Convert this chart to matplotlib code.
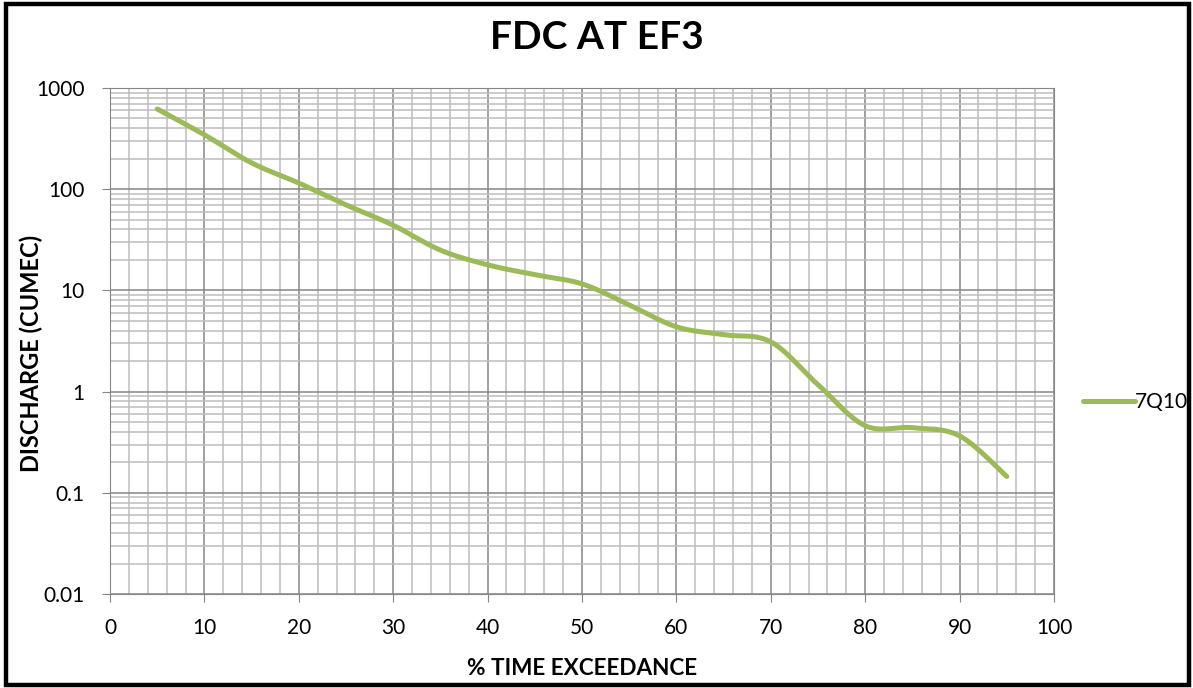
import numpy as np
from matplotlib import pyplot as plt
from matplotlib.patches import Rectangle
from matplotlib.ticker import MultipleLocator, LogLocator, FuncFormatter

# flow duration data (percent of time exceeded vs discharge)
exceedance = [5, 10, 15, 20, 25, 30, 35, 40, 45, 50, 55, 60, 65, 70, 75, 80, 85, 90, 95]
discharge = [620, 345, 182, 115, 70, 44, 25, 17.9, 14.3, 11.6, 7.2, 4.37, 3.65, 3.1,
             1.17, 0.46, 0.44, 0.365, 0.145]
series_name = '7Q10'

plt.rcParams['font.family'] = ['Lato', 'DejaVu Sans']
plt.rcParams['font.size'] = 15

# smoothed line like a spreadsheet chart: cubic bezier through points in (x, log y)
def smooth(x, y, n=40):
    x = np.asarray(x, float)
    y = np.log10(np.asarray(y, float))
    px = np.concatenate([[x[0]], x, [x[-1]]])
    py = np.concatenate([[y[0]], y, [y[-1]]])
    xs, ys = [], []
    t = np.linspace(0, 1, n)
    for i in range(1, len(px) - 2):
        p0 = np.array([px[i], py[i]])
        p3 = np.array([px[i + 1], py[i + 1]])
        p1 = p0 + (np.array([px[i + 1], py[i + 1]]) - np.array([px[i - 1], py[i - 1]])) / 6
        p2 = p3 - (np.array([px[i + 2], py[i + 2]]) - np.array([px[i], py[i]])) / 6
        b = (np.outer((1 - t) ** 3, p0) + np.outer(3 * (1 - t) ** 2 * t, p1)
             + np.outer(3 * (1 - t) * t ** 2, p2) + np.outer(t ** 3, p3))
        xs.extend(b[:, 0])
        ys.extend(b[:, 1])
    return np.array(xs), 10 ** np.array(ys)

fig = plt.figure(figsize=(11.93, 6.88), dpi=100)
ax = fig.add_axes([0.0922, 0.1366, 0.7913, 0.7355])

sx, sy = smooth(exceedance, discharge)
line, = ax.plot(sx, sy, color='#9BBB59', lw=3.6, solid_capstyle='round', zorder=3)

ax.set_yscale('log')
ax.set_xlim(0, 100)
ax.set_ylim(0.01, 1000)
ax.xaxis.set_major_locator(MultipleLocator(10))
ax.xaxis.set_minor_locator(MultipleLocator(2))
ax.yaxis.set_major_locator(LogLocator(base=10, numticks=10))
ax.yaxis.set_minor_locator(LogLocator(base=10, subs=np.arange(2, 10), numticks=10))
ax.yaxis.set_major_formatter(FuncFormatter(lambda v, p: '{:g}'.format(v)))
ax.yaxis.set_minor_formatter(FuncFormatter(lambda v, p: ''))

ax.grid(which='major', color='#868686', lw=1.1)
ax.grid(which='minor', color='#BDBDBD', lw=1.1)
ax.set_axisbelow(True)
for s in ax.spines.values():
    s.set_color('#868686')
ax.tick_params(which='major', length=5.5, color='#868686', labelsize=15)
ax.tick_params(axis='y', which='major', pad=13)
ax.tick_params(axis='x', which='major', pad=12)
ax.tick_params(which='minor', length=0)

# titles
fig.text(0.5, 0.946, 'FDC AT EF3', fontsize=28, fontweight='bold', ha='center', va='center')
fig.text(0.488, 0.029, '% TIME EXCEEDANCE', fontsize=16.2, fontweight='bold',
         ha='center', va='center')
fig.text(0.026, 0.487, 'DISCHARGE (CUMEC)', fontsize=17, fontweight='bold',
         ha='center', va='center', rotation=90)

fig.legend([line], [series_name], loc='center left', bbox_to_anchor=(0.908, 0.416),
           frameon=False, handlelength=2.5, handletextpad=0.0, fontsize=15,
           borderaxespad=0, borderpad=0)

# chart border
fig.patches.append(Rectangle((0.005, 0.004), 0.992, 0.99, transform=fig.transFigure,
                             fill=False, edgecolor='black', lw=3.2))

fig.savefig('out.png', dpi=100)
